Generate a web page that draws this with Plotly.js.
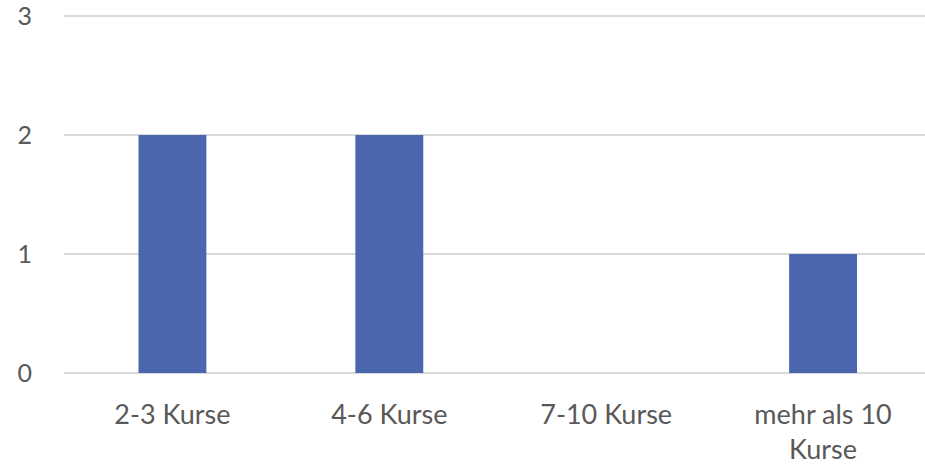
<!DOCTYPE html>
<html>
<head>
<meta charset="utf-8">
<script src="https://cdn.plot.ly/plotly-3.0.1.min.js"></script>
<style>html,body{margin:0;padding:0;background:#fff;}#chart{width:925px;height:469px;}</style>
</head>
<body>
<div id="chart"></div>
<script>
const categories = ["2-3 Kurse", "4-6 Kurse", "7-10 Kurse", "mehr als 10<br>Kurse"];
const values = [2, 2, 0, 1];
const yTicks = [0, 1, 2, 3];

const trace = {
  type: "bar",
  x: categories,
  y: values,
  width: 0.313,
  marker: {color: "#4a66ac"},
  hoverinfo: "none"
};

const layout = {
  width: 925,
  height: 469,
  margin: {l: 64, r: 0, t: 10, b: 96},
  paper_bgcolor: "#ffffff",
  plot_bgcolor: "#ffffff",
  showlegend: false,
  font: {family: "Lato, sans-serif", color: "#595959", size: 27},
  xaxis: {
    type: "category",
    range: [-0.5, 3.47],
    showgrid: false,
    zeroline: false,
    showline: false,
    ticks: "",
    ticklabelstandoff: 23,
    tickfont: {size: 27, color: "#595959"}
  },
  yaxis: {
    range: [0, 3.0504],
    tickvals: yTicks,
    ticktext: yTicks.map(String),
    showgrid: true,
    gridcolor: "#d9d9d9",
    gridwidth: 1.5,
    zeroline: true,
    zerolinecolor: "#d9d9d9",
    zerolinewidth: 1.5,
    showline: false,
    ticks: "",
    ticklabeloverflow: "allow",
    ticklabelstandoff: 31,
    tickfont: {size: 25, color: "#595959"}
  }
};

Plotly.newPlot("chart", [trace], layout, {staticPlot: true, displayModeBar: false});
</script>
</body>
</html>
